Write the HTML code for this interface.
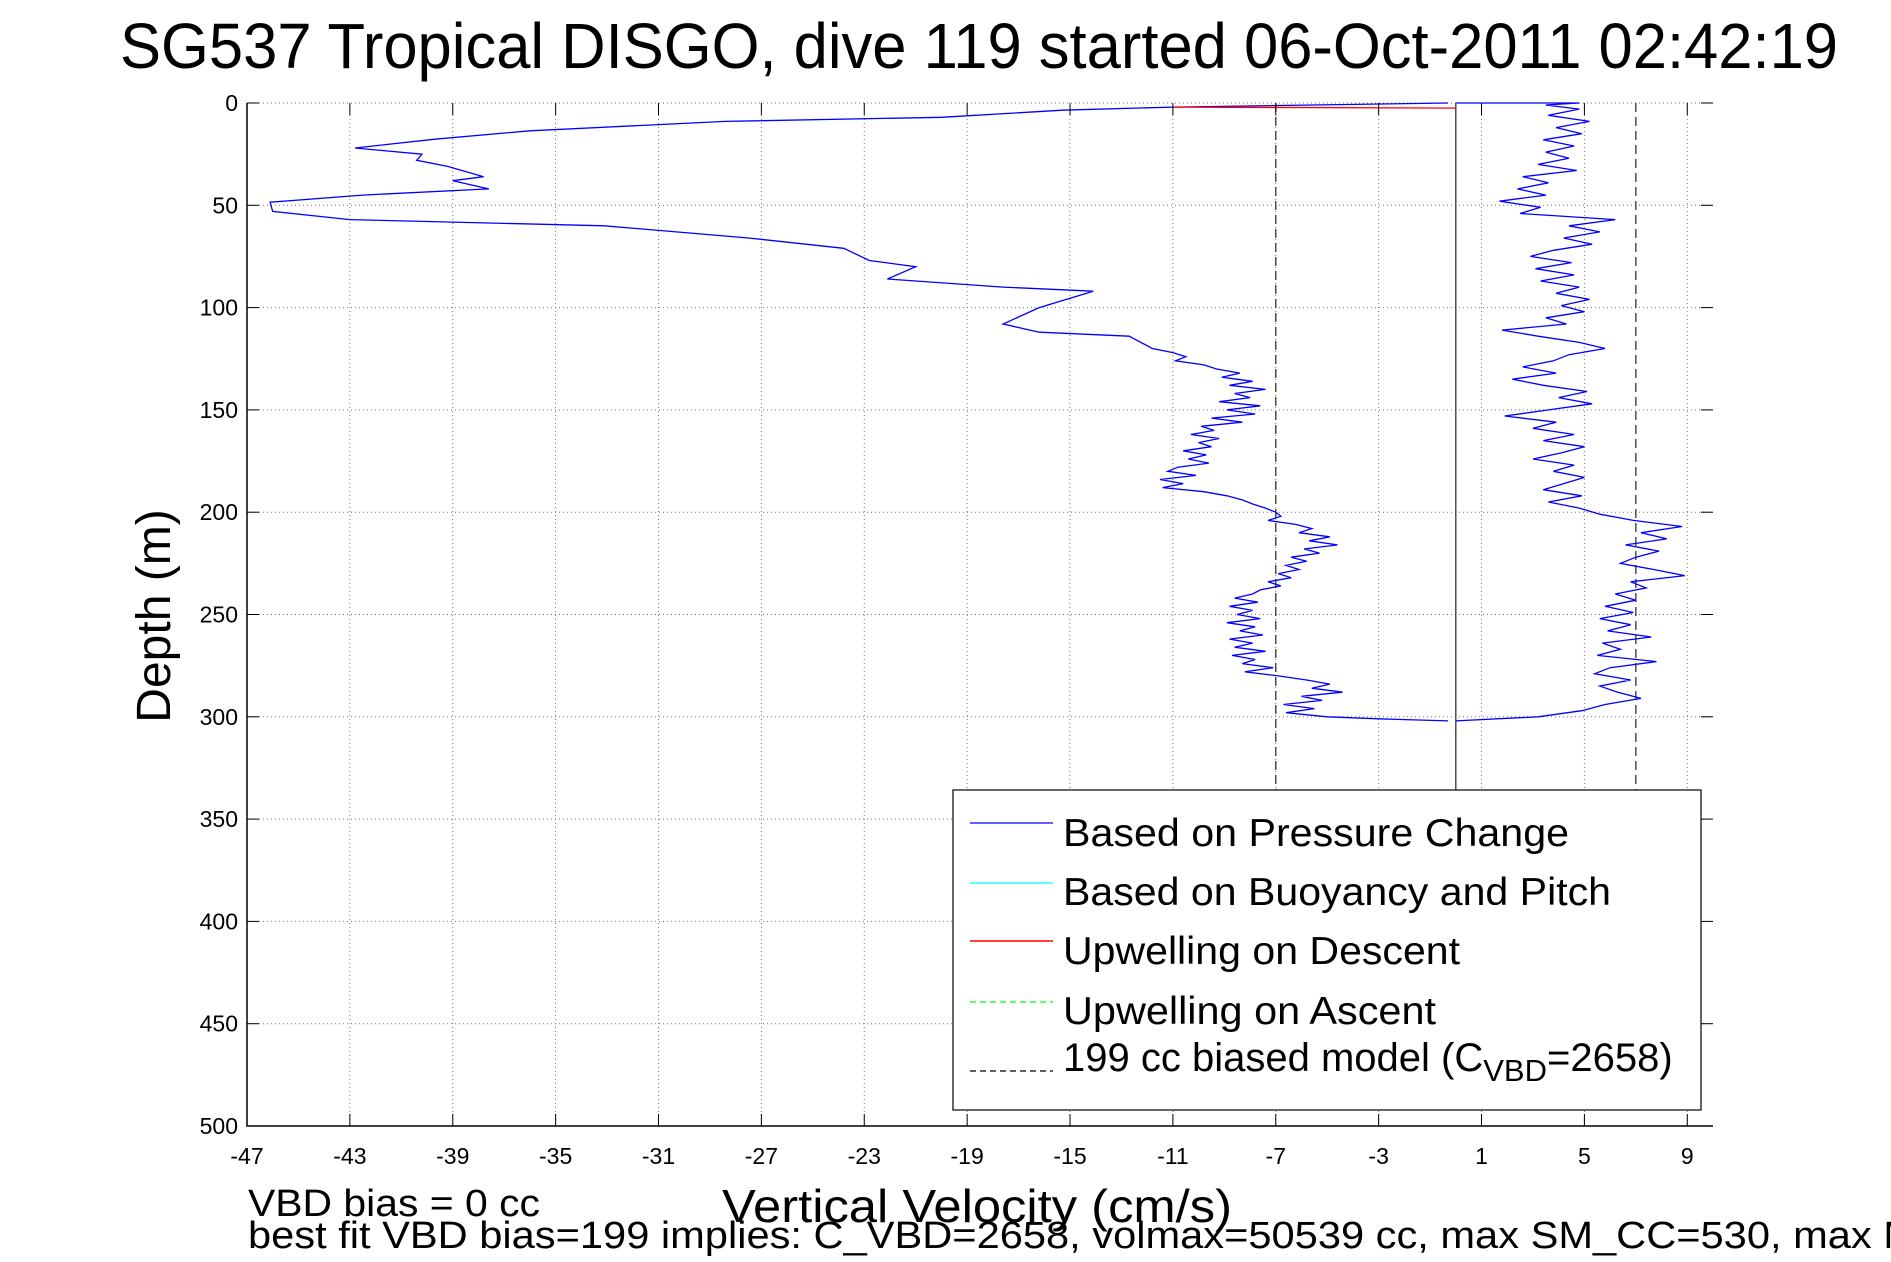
<!DOCTYPE html>
<html><head><meta charset="utf-8"><style>
html,body{margin:0;padding:0;background:#fff;}
svg{display:block;font-family:"Liberation Sans",sans-serif;}
</style></head><body>
<svg id="chart" width="1891" height="1262" viewBox="0 0 1891 1262" xmlns="http://www.w3.org/2000/svg">
<rect width="1891" height="1262" fill="#fff"/>
<text x="120" y="68" font-size="64" textLength="1718" lengthAdjust="spacingAndGlyphs">SG537 Tropical DISGO, dive 119 started 06-Oct-2011 02:42:19</text>
<g id="grid"></g>
<g id="marks"></g>
<g id="axes"></g>
<text transform="translate(170,616) rotate(-90)" text-anchor="middle" font-size="48">Depth (m)</text>
<text x="722" y="1222" font-size="46" textLength="510" lengthAdjust="spacingAndGlyphs">Vertical Velocity (cm/s)</text>
<text x="248" y="1216" font-size="38" textLength="292" lengthAdjust="spacingAndGlyphs">VBD bias = 0 cc</text>
<text x="248" y="1248" font-size="38" textLength="1700" lengthAdjust="spacingAndGlyphs">best fit VBD bias=199 implies: C_VBD=2658, volmax=50539 cc, max SM_CC=530, max MD</text>
<g>
<rect x="953" y="790" width="748" height="320" fill="#fff" stroke="#000" stroke-width="1.2"/>
<line x1="970" y1="823" x2="1053" y2="823" stroke="#00f" stroke-width="1.2"/>
<text x="1063" y="846" font-size="39" textLength="506" lengthAdjust="spacingAndGlyphs">Based on Pressure Change</text>
<line x1="970" y1="883" x2="1053" y2="883" stroke="#0ff" stroke-width="1.2"/>
<text x="1063" y="905" font-size="39" textLength="548" lengthAdjust="spacingAndGlyphs">Based on Buoyancy and Pitch</text>
<line x1="970" y1="941" x2="1053" y2="941" stroke="#f00" stroke-width="1.5"/>
<text x="1063" y="964" font-size="39" textLength="397" lengthAdjust="spacingAndGlyphs">Upwelling on Descent</text>
<line x1="970" y1="1002" x2="1053" y2="1002" stroke="#0f0" stroke-width="1.2" stroke-dasharray="6,4"/>
<text x="1063" y="1024" font-size="39" textLength="373" lengthAdjust="spacingAndGlyphs">Upwelling on Ascent</text>
<line x1="970" y1="1071" x2="1053" y2="1071" stroke="#000" stroke-width="1.2" stroke-dasharray="6,4"/>
<text x="1063" y="1071" font-size="40">199 cc biased model (C<tspan font-size="31" dy="10">VBD</tspan><tspan dy="-10">=2658)</tspan></text>
</g>
</svg>
<script>
const xTicks=[-47,-43,-39,-35,-31,-27,-23,-19,-15,-11,-7,-3,1,5,9];
const yTicks=[0,50,100,150,200,250,300,350,400,450,500];
const descDepth=[0,2,3.5,7,9,13.6,17.7,22,25,28,31,36,38,42,45,48.5,53,57,60,66,71,77,80,86,90,92,100,108,112,114,
120,122,124,126,128,130,132,134,136,138,140,142,144,146,148,150,152,154,156,158,160,162,164,166,168,170,172,174,176,178,180,182,184,186,188,190,192,194,196,198,200,202,204,206,208,210,212,214,216,218,220,222,224,226,228,230,232,234,236,238,240,242,244,246,248,250,252,254,256,258,260,262,264,266,268,270,272,274,276,278,280,282,284,286,288,290,292,294,296,298,300,301,302];
const descVel=[-0.3,-11,-15.3,-20,-28.4,-36,-39.7,-42.8,-40.2,-40.4,-39.2,-37.8,-39,-37.6,-42.5,-46.1,-46,-43,-33.1,-27.5,-23.8,-22.8,-21,-22.1,-17.6,-14.1,-16.2,-17.6,-16.2,-12.7,
-11.8,-11.0,-10.5,-10.9,-9.8,-9.3,-8.4,-9.1,-7.9,-8.8,-7.4,-8.6,-8.0,-9.2,-7.6,-8.9,-7.8,-9.5,-8.3,-9.9,-9.4,-10.3,-9.2,-10.0,-9.5,-10.6,-9.7,-10.4,-9.6,-10.8,-11.2,-10.1,-11.5,-10.6,-11.4,-9.8,-8.9,-8.3,-7.9,-7.4,-7.0,-6.8,-7.3,-6.2,-5.6,-6.1,-4.9,-5.7,-4.6,-5.9,-5.3,-6.4,-5.8,-6.6,-6.1,-6.9,-6.4,-7.3,-6.8,-7.6,-7.9,-8.6,-7.7,-8.8,-7.9,-8.5,-7.6,-8.9,-7.8,-8.4,-7.5,-8.8,-7.9,-8.6,-7.4,-8.7,-7.8,-8.3,-7.1,-8.2,-6.9,-5.8,-4.9,-5.6,-4.4,-6.0,-5.2,-6.7,-5.5,-6.6,-5.0,-3.0,-0.3];
const ascDepth=[0,0,1,3,6,9,12,15,18,21,24,27,30,33,36,39,42,45,48,51,54,57,60,63,66,69,72,75,78,81,84,87,90,93,96,99,102,105,108,111,114,117,120,123,126,129,132,135,138,141,144,147,150,153,156,159,162,165,168,171,174,177,180,183,186,189,192,195,198,201,204,207,210,213,216,219,222,225,228,231,234,237,240,243,246,249,252,255,258,261,264,267,270,273,276,279,282,285,288,291,294,297,300,302];
const ascVel=[0.0,4.8,3.5,4.8,3.6,5.2,3.9,4.9,3.4,4.6,3.5,4.4,3.2,4.7,2.6,3.6,2.4,3.5,1.7,3.3,2.5,6.2,4.4,5.6,4.2,5.3,3.8,2.9,4.5,3.1,4.6,3.3,4.8,3.9,5.2,4.1,5.0,3.5,4.3,1.8,3.2,4.8,5.8,4.4,3.8,2.6,3.9,2.2,3.4,5.1,4.0,5.3,3.6,1.9,3.9,3.0,4.6,3.4,5.0,4.1,3.0,4.6,3.8,5.0,4.2,3.4,4.9,3.6,4.8,5.6,6.9,8.8,7.2,8.2,6.6,7.9,7.0,6.4,7.7,8.9,6.8,7.4,6.2,7.0,5.8,6.9,5.6,6.8,5.9,7.6,5.7,6.4,5.5,7.8,6.0,5.4,6.8,5.6,6.3,7.2,5.8,4.9,3.2,0.0];
const upDescDepth=[2,2.5];
const upDescVel=[-11,0];
const modelVel=[-7,7];
const zeroVel=[0];
const X0=247,X1=1713,Y0=103,Y1=1126,XMIN=-47,XMAX=10,YMAX=500;
const sx=v=>X0+(v-XMIN)/(XMAX-XMIN)*(X1-X0);
const sy=d=>Y0+d/YMAX*(Y1-Y0);
const NS="http://www.w3.org/2000/svg";
function mk(tag,attrs,parent){const e=document.createElementNS(NS,tag);for(const k in attrs)e.setAttribute(k,attrs[k]);parent.appendChild(e);return e;}
const grid=document.getElementById('grid'),marks=document.getElementById('marks'),axes=document.getElementById('axes');
xTicks.forEach(v=>{
 const g=mk('line',{x1:sx(v),x2:sx(v),y1:Y0,y2:Y1,stroke:'#777','stroke-width':1,'stroke-dasharray':'1,3'},grid);
 
 
 mk('line',{x1:sx(v),x2:sx(v),y1:Y1,y2:Y1-12,stroke:'#000','stroke-width':1},axes);
 mk('line',{x1:sx(v),x2:sx(v),y1:Y0,y2:Y0+12,stroke:'#000','stroke-width':1},axes);
 const t=mk('text',{x:sx(v),y:1164,'text-anchor':'middle','font-size':23},axes);t.textContent=v;
 
 
});
yTicks.forEach(d=>{
 const g=mk('line',{x1:X0,x2:X1,y1:sy(d),y2:sy(d),stroke:'#777','stroke-width':1,'stroke-dasharray':'1,3'},grid);
 
 
 mk('line',{x1:X0,x2:X0+12,y1:sy(d),y2:sy(d),stroke:'#000','stroke-width':1},axes);
 mk('line',{x1:X1,x2:X1-12,y1:sy(d),y2:sy(d),stroke:'#000','stroke-width':1},axes);
 const t=mk('text',{x:238,y:sy(d)+8,'text-anchor':'end','font-size':23},axes);t.textContent=d;
 
 
});
const frame=mk('path',{d:`M${X0},${Y0}V${Y1}H${X1}`,fill:'none',stroke:'#000','stroke-width':1.5},axes);


modelVel.forEach(v=>{
 const l=mk('line',{x1:sx(v),x2:sx(v),y1:sy(0),y2:790,stroke:'#333','stroke-width':1.3,'stroke-dasharray':'9,5'},marks);
 
 
});
zeroVel.forEach(v=>{
 const l=mk('line',{x1:sx(v),x2:sx(v),y1:sy(0),y2:790,stroke:'#333','stroke-width':1.3},marks);
 
 
});
function poly(vs,ds,color,name){
 const p=vs.map((v,i)=>sx(v).toFixed(1)+','+sy(ds[i]).toFixed(1)).join(' ');
 const e=mk('polyline',{points:p,fill:'none',stroke:color,'stroke-width':1.3},marks);
 
 
}
poly(descVel,descDepth,'#00f','descent-velocity-line');
poly(ascVel,ascDepth,'#00f','ascent-velocity-line');
poly(upDescVel,upDescDepth,'#f00','upwelling-descent-line');
</script>
</body></html>
